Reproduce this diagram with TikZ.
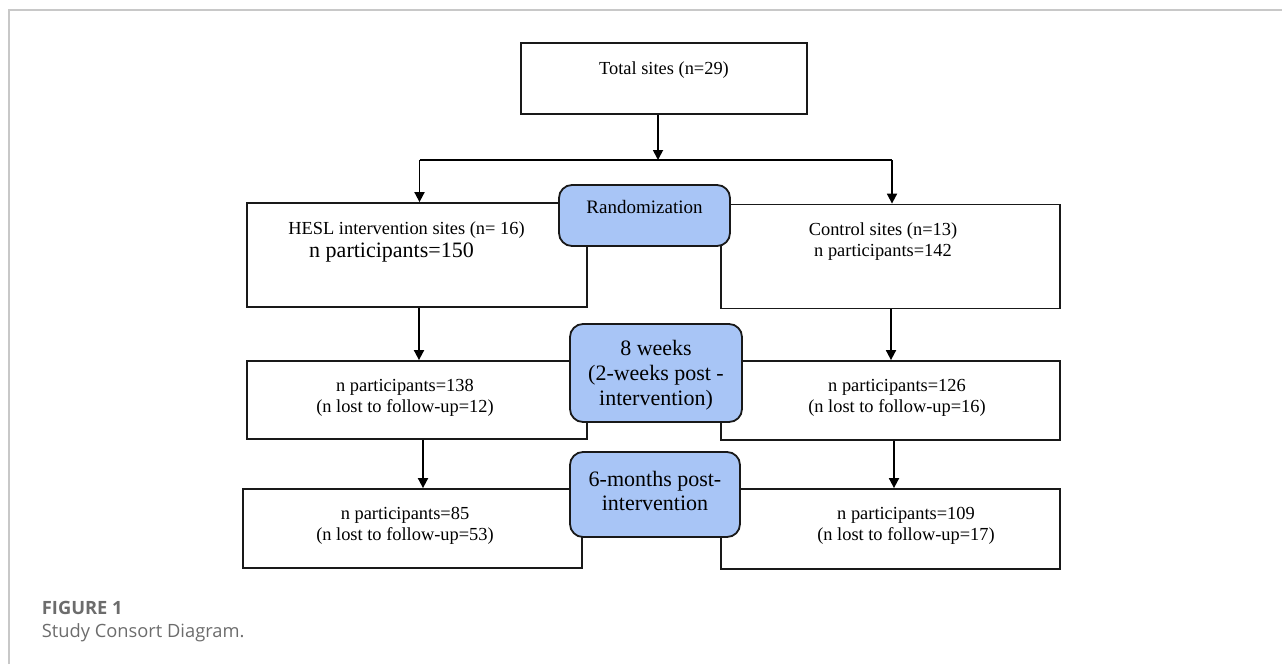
\documentclass[tikz,border=0pt]{standalone}
\usepackage{fontspec}
\setmainfont{Liberation Serif}
\newfontfamily\capfont{Open Sans}
\usepackage{tikz}
\usetikzlibrary{arrows.meta}
\usetikzlibrary{positioning}
\usetikzlibrary{calc}
\definecolor{stageblue}{RGB}{168,197,246}
\definecolor{capgray}{RGB}{108,108,108}
\definecolor{framegray}{RGB}{200,200,200}
\tikzset{
    sitebox/.style={draw=black!90, fill=white, rectangle, inner sep=0pt},
    stagebox/.style={draw=black!90, fill=stageblue, rectangle, rounded corners=13pt, inner sep=0pt},
    boxtext/.style={font=\fontsize{18.4}{21}\selectfont, align=center, inner sep=0pt},
    stagetext/.style={font=\fontsize{22}{25}\selectfont, align=center, inner sep=0pt},
    flow/.style={draw=black, -{Triangle[length=10pt,width=10pt]}},
    flownoarrow/.style={draw=black},
}

\begin{document}
\begin{tikzpicture}[line width=1.8pt, x=1pt, y=-1pt]
	\useasboundingbox (0,0) rectangle (1282,664);
	\draw[framegray, line width=1.5pt] (9,664) -- (9,10) -- (1282,10);
	% boxes
	\node[sitebox, minimum width=286pt, minimum height=71pt] (total) at (664,78.5) {};
	\node[sitebox, minimum width=340pt, minimum height=104pt] (hesl) at (417,255) {};
	\node[sitebox, minimum width=339pt, minimum height=104pt] (control) at (890.5,256.5) {};
	\node[sitebox, minimum width=340pt, minimum height=78pt] (heslwk) at (417,400) {};
	\node[sitebox, minimum width=339pt, minimum height=79pt] (controlwk) at (890.5,400.5) {};
	\node[sitebox, minimum width=339pt, minimum height=79pt] (heslmo) at (412.5,528.5) {};
	\node[sitebox, minimum width=339pt, minimum height=80pt] (controlmo) at (890.5,529) {};
	\node[stagebox, minimum width=171pt, minimum height=61pt] (rand) at (644.5,215.5) {};
	\node[stagebox, minimum width=172pt, minimum height=98pt] (weeks) at (656,373) {};
	\node[stagebox, minimum width=170pt, minimum height=85pt] (months) at (655,494.5) {};
	% texts
	\node[boxtext] (totaltxt) at (664,70) {Total sites (n=29)};
	\node[boxtext] (heslsites) at (406.5,230) {HESL intervention sites (n= 16)};
	\node[boxtext, font=\fontsize{22}{25}\selectfont] (heslpart) at (391.5,253) {n participants=150};
	\node[boxtext] (controltxt) at (883,242) {Control sites (n=13)\\n participants=142};
	\node[boxtext] (heslwktxt) at (405,398) {n participants=138\\(n lost to follow-up=12)};
	\node[boxtext] (controlwktxt) at (897,397.5) {n participants=126\\(n lost to follow-up=16)};
	\node[boxtext] (heslmotxt) at (405,526) {n participants=85\\(n lost to follow-up=53)};
	\node[boxtext] (controlmotxt) at (906,525.5) {n participants=109\\(n lost to follow-up=17)};
	\node[stagetext, font=\fontsize{19}{22}\selectfont] (randtxt) at (644.5,207) {Randomization};
	\node[stagetext] (weekstxt) at (656,375) {8 weeks\\(2-weeks post -\\intervention)};
	\node[stagetext, font=\fontsize{22}{23.5}\selectfont] (monthstxt) at (655,491) {6-months post-\\intervention};
	% connectors
	\coordinate (split) at (658,160);
	\coordinate (splitl) at (419.5,160);
	\coordinate (splitr) at (892,160);
	\draw[flow] (total.south -| split) -- (split);
	\draw[flownoarrow] (splitl) -- (splitr);
	\draw[flow] (splitl) -- (splitl |- hesl.north);
	\draw[flow] (splitr) -- (splitr |- control.north);
	\draw[flow] ([xshift=2pt]hesl.south) -- ([xshift=2pt]hesl.south |- heslwk.north);
	\draw[flow] ([xshift=0.5pt]control.south) -- ([xshift=0.5pt]control.south |- controlwk.north);
	\draw[flow] ([xshift=6pt]heslwk.south) -- ([xshift=6pt]heslwk.south |- heslmo.north);
	\draw[flow] ([xshift=3.5pt]controlwk.south) -- ([xshift=3.5pt]controlwk.south |- controlmo.north);
	% caption
	\node[anchor=base west, inner sep=0pt, text=capgray, font=\capfont\bfseries\fontsize{18.3}{21}\selectfont] (figlabel) at (41,614) {FIGURE 1};
	\node[anchor=base west, inner sep=0pt, text=capgray, font=\capfont\fontsize{18.3}{21}\selectfont] (figcaption) at (41,637) {Study Consort Diagram.};
\end{tikzpicture}
\end{document}
